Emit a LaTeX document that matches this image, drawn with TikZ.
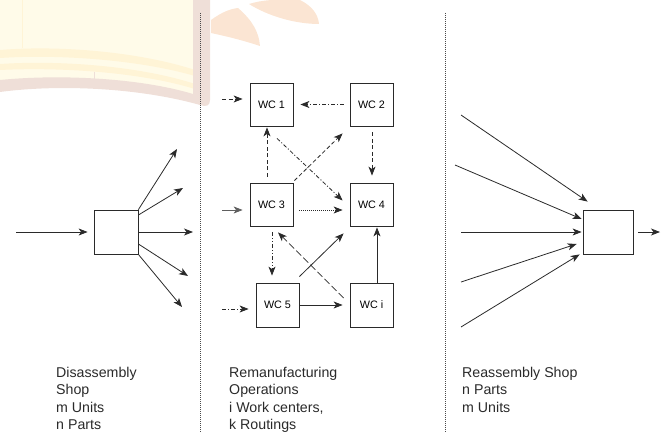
\documentclass[tikz,border=0pt]{standalone}
\usepackage{fontspec}
\setmainfont{Liberation Sans}
\usetikzlibrary{arrows.meta}
\definecolor{ink}{HTML}{2A2A2A}
\definecolor{wmpaper}{HTML}{FFFBE9}
\definecolor{wmstripe}{HTML}{FFF4D6}
\definecolor{wmedge}{HTML}{EFDFD8}
\definecolor{wmleaf}{HTML}{FBE5D3}
\tikzset{
  wcbox/.style={draw=ink, line width=0.8pt, minimum width=43pt, minimum height=43pt,
    inner sep=0pt, font=\fontsize{10.8}{12}\selectfont},
  shopbox/.style={draw=ink, line width=0.8pt, inner sep=0pt},
  flow/.style={draw=ink, line width=0.8pt, -{Stealth[length=9pt,width=7pt,inset=2.5pt]}},
  dashflow/.style={flow, dash pattern=on 4pt off 2.5pt},
  dotflow/.style={flow, dash pattern=on 1pt off 1pt},
  dashdotflow/.style={flow, dash pattern=on 4pt off 2pt on 1pt off 2pt},
  dashdotdotflow/.style={flow, dash pattern=on 4pt off 2pt on 1pt off 2pt on 1pt off 2pt},
  longdashflow/.style={flow, dash pattern=on 7pt off 3pt},
  divider/.style={draw=ink!85, line width=0.6pt, dash pattern=on 1pt off 1pt},
  caption/.style={anchor=north west, align=left, inner sep=0pt,
    font=\fontsize{14.2}{17.3}\selectfont, text=ink}
}
\begin{document}
\begin{tikzpicture}[x=1pt, y=-1pt]
\useasboundingbox (0,0) rectangle (669,433);

% faint watermark: open book and leaves
\fill[wmpaper] (0,0) -- (195,0) -- (195,97) .. controls (140,82) and (60,76) .. (0,82) -- cycle;
\fill[wmstripe] (0,50) .. controls (60,45) and (140,52) .. (195,70) -- (195,76)
  .. controls (140,60) and (60,54) .. (0,58) -- cycle;
\fill[wmstripe] (0,64) .. controls (60,60) and (140,66) .. (195,84) -- (195,89)
  .. controls (140,72) and (60,67) .. (0,70) -- cycle;
\draw[wmstripe, line width=0.8pt] (22,0) -- (22,48);
\draw[wmedge, line width=0.8pt] (94,72) -- (94,80);
\fill[wmedge] (193,0) -- (210,0) -- (210,100) .. controls (210,106) and (206,107) .. (200,105)
  .. controls (140,88) and (60,84) .. (0,92) -- (0,80) .. controls (60,74) and (140,78) .. (193,94) -- cycle;
\fill[wmleaf] (211,20) .. controls (222,12) and (230,9) .. (238,8)
  .. controls (252,20) and (259,32) .. (260,46) .. controls (242,40) and (225,36) .. (211,33) -- cycle;
\fill[wmleaf] (249,4) .. controls (262,0) and (275,-1) .. (300,0)
  .. controls (312,6) and (318,14) .. (319,24) .. controls (295,24) and (268,16) .. (249,4) -- cycle;

% section dividers
\coordinate (d1top) at (200,13);
\coordinate (d1bot) at (200,433);
\coordinate (d2top) at (445,13);
\coordinate (d2bot) at (445,433);
\draw[divider] (d1top) -- (d1bot);
\draw[divider] (d2top) -- (d2bot);

% disassembly shop (offsets below are in picture units, y pointing down)
\node[shopbox, minimum width=44pt, minimum height=44pt] (dis) at (116,232) {};
\coordinate (disin) at (16,232);
\coordinate (dout1) at (177,149);
\coordinate (dout2) at (183,188);
\coordinate (dout3) at (193,232);
\coordinate (dout4) at (188,276);
\coordinate (dout5) at (182,307);
\draw[flow] (disin) -- ([shift={(-6,0)}]dis.west);
\draw[flow] (dis.north east) -- (dout1);
\draw[flow] ([shift={(0,-17)}]dis.east) -- (dout2);
\draw[flow] (dis.east) -- (dout3);
\draw[flow] ([shift={(0,12)}]dis.east) -- (dout4);
\draw[flow] (dis.south east) -- (dout5);

% remanufacturing work centres
\node[wcbox] (wc1) at (271.5,104.5) {WC 1};
\node[wcbox] (wc2) at (371.5,104.5) {WC 2};
\node[wcbox] (wc3) at (271.5,204.5) {WC 3};
\node[wcbox] (wc4) at (371.5,204.5) {WC 4};
\node[wcbox, minimum height=44pt] (wc5) at (277.5,305) {WC 5};
\node[wcbox, minimum height=44pt] (wci) at (371.5,305) {WC i};
\coordinate (in1) at (222,99);
\coordinate (in3) at (222,210);
\coordinate (in5) at (222,309);
\draw[dashflow] (in1) -- ([shift={(-7,-5.5)}]wc1.west);
\draw[dashdotflow] ([shift={(-6,0)}]wc2.west) -- ([shift={(7,0)}]wc1.east);
\draw[dashflow] ([shift={(-4.5,-6)}]wc3.north) -- ([shift={(-4.5,1)}]wc1.south);
\draw[dashflow] ([shift={(1,-2)}]wc3.north east) -- ([shift={(-7,7)}]wc2.south west);
\draw[dashdotflow] ([shift={(5.5,12)}]wc1.south) -- ([shift={(-7,-4)}]wc4.west);
\draw[dashflow] ([shift={(0.5,6)}]wc2.south) -- ([shift={(0.5,-7)}]wc4.north);
\draw[flow, draw=ink!75] (in3) -- ([shift={(-7,5.5)}]wc3.west);
\draw[dotflow] ([shift={(6,5.5)}]wc3.east) -- ([shift={(-7,5.5)}]wc4.west);
\draw[dashdotdotflow] ([shift={(0.5,6)}]wc3.south) -- ([shift={(-5.5,-7)}]wc5.north);
\draw[longdashflow] ([shift={(-6,-7)}]wci.west) -- ([shift={(6.5,6)}]wc3.south);
\draw[flow] ([shift={(0,-6)}]wc5.north east) -- ([shift={(-6,7)}]wc4.south west);
\draw[flow] (wc5.east) -- ([shift={(-7,0)}]wci.west);
\draw[flow] ([shift={(5.5,0)}]wci.north) -- ([shift={(5.5,1)}]wc4.south);
\draw[dashdotflow] (in5) -- ([shift={(-7,4)}]wc5.west);

% reassembly shop
\node[shopbox, minimum width=50pt, minimum height=44pt] (rea) at (608,232) {};
\coordinate (rin1) at (461,115);
\coordinate (rin2) at (455,165);
\coordinate (rin3) at (461,232);
\coordinate (rin4) at (461,282);
\coordinate (rin5) at (461,327);
\coordinate (rout) at (660,232);
\draw[flow] (rin1) -- ([shift={(5,-8)}]rea.north west);
\draw[flow] (rin2) -- ([shift={(-1,-13)}]rea.west);
\draw[flow] (rin3) -- ([shift={(-1,0)}]rea.west);
\draw[flow] (rin4) -- ([shift={(-6,12)}]rea.west);
\draw[flow] (rin5) -- ([shift={(-3,0)}]rea.south west);
\draw[flow] ([shift={(5,0)}]rea.east) -- (rout);

% captions
\node[caption] (capdis) at (56,367) {Disassembly\\Shop\\m Units\\n Parts};
\node[caption] (caprem) at (229,367) {Remanufacturing\\Operations\\i Work centers,\\k Routings};
\node[caption] (caprea) at (462,367) {Reassembly Shop\\n Parts\\m Units};
\end{tikzpicture}
\end{document}
